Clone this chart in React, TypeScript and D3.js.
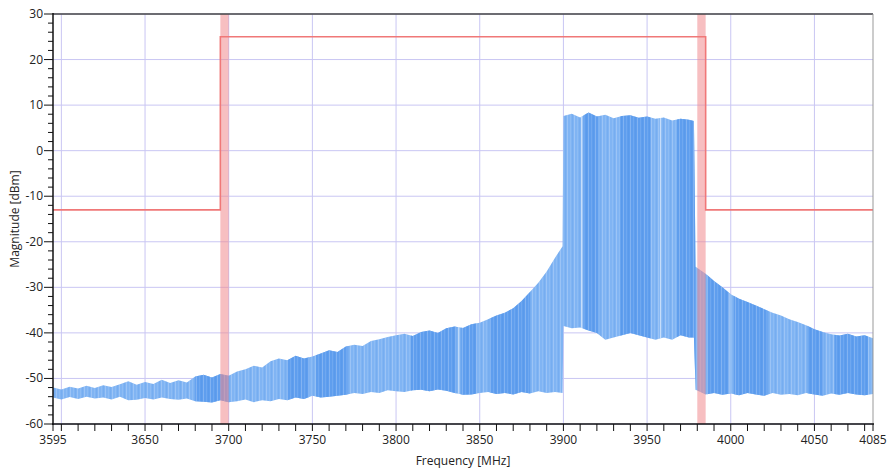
import React from 'react';
import * as d3 from 'd3';

const freqs = [
  3595, 3600, 3605, 3610, 3615, 3620, 3625, 3630, 3635, 3640,
  3645, 3650, 3655, 3660, 3665, 3670, 3675, 3680, 3685, 3690,
  3695, 3700, 3705, 3710, 3715, 3720, 3725, 3730, 3735, 3740,
  3745, 3750, 3755, 3760, 3765, 3770, 3775, 3780, 3785, 3790,
  3795, 3800, 3805, 3810, 3815, 3820, 3825, 3830, 3835, 3840,
  3845, 3850, 3855, 3860, 3865, 3870, 3875, 3880, 3885, 3890,
  3895, 3899.5, 3900, 3905, 3910, 3915, 3920, 3925, 3930, 3935,
  3940, 3945, 3950, 3955, 3960, 3965, 3970, 3975, 3978, 3979,
  3985, 3990, 3995, 4000, 4005, 4010, 4015, 4020, 4025, 4030,
  4035, 4040, 4045, 4050, 4055, 4060, 4065, 4070, 4075, 4080, 4085,
];

const upper = [
  -52, -52.4, -51.8, -52.2, -51.6, -52.1, -51.5, -51.9, -51.3, -50.6,
  -51.4, -50.8, -51.2, -50.3, -51, -50.4, -50.9, -49.6, -49.2, -49.8,
  -49, -49.4, -48.5, -48, -47.2, -47.6, -46.2, -45.6, -46, -45,
  -45.6, -45.2, -44.5, -43.8, -44.2, -43, -42.6, -42.9, -41.8, -41.4,
  -40.9, -40.5, -40.2, -40.7, -39.8, -39.5, -40, -39, -38.6, -38.9,
  -38.1, -37.8, -37, -36.2, -35.6, -34.6, -33, -31, -29, -26.5,
  -23.5, -21, 7.6, 8.1, 7.3, 8.4, 7.5, 7.9, 7.1, 7.6,
  7.8, 7.2, 7.5, 7, 7.3, 6.6, 7, 6.8, 6.5, -25.5,
  -27, -28.6, -30, -31.5, -32.5, -33.2, -34, -34.8, -35.6, -36.2,
  -37, -37.6, -38.3, -39.2, -39.8, -40.3, -40.6, -40.2, -40.8, -40.5, -41.2,
];

const lower = [
  -54.2, -54.6, -54.1, -54.5, -54, -54.4, -54.2, -54.6, -54, -54.8,
  -54.7, -54.3, -54.6, -54.2, -54.5, -54.7, -54.4, -55, -55.1, -55.3,
  -54.8, -55.2, -55, -54.6, -55.2, -54.8, -55, -54.5, -54.8, -54.2,
  -54.5, -53.8, -54.2, -54, -53.8, -53.6, -53.2, -53.4, -53, -53.2,
  -52.6, -52.8, -53, -52.6, -52.5, -52.8, -52.4, -52.7, -53.2, -53.6,
  -53.5, -53.2, -53, -53.4, -53.2, -53.5, -53, -53.3, -52.8, -53.2,
  -53, -53.2, -38.5, -39, -38.8, -39.5, -40, -41.5, -41, -40.5,
  -40, -40.5, -41, -41.5, -41, -41.5, -40.5, -41, -41, -52.5,
  -53.5, -53.2, -53.6, -53.3, -53.7, -53.2, -53.5, -53.8, -53.2, -53.6,
  -53.4, -53.7, -53.2, -53.5, -53.8, -53.3, -53.6, -53.2, -53.5, -53.7, -53.4,
];

// denser shading segments of the trace
const darkStart = [3680, 3735, 3752, 3809, 3839, 3856, 3912, 3934, 3968, 3986, 4002, 4046, 4062];
const darkEnd = [3700, 3748, 3771, 3836, 3848, 3880, 3921, 3952, 3979, 4000, 4022, 4055, 4082];

// thin gaps in the trace
const gapFreq = [3837.5, 3911, 3958, 3999.5];

// spectrum emission mask
const maskFreq = [3595, 3695, 3695, 3985, 3985, 4085];
const maskLevel = [-13, -13, 25, 25, -13, -13];

// transition bands
const bandStart = [3695, 3980];
const bandEnd = [3700, 3985];

const xTickLabels = [3595, 3650, 3700, 3750, 3800, 3850, 3900, 3950, 4000, 4050, 4085];
const xGrid = [3600, 3650, 3700, 3750, 3800, 3850, 3900, 3950, 4000, 4050];
const yTickLabels = [30, 20, 10, 0, -10, -20, -30, -40, -50, -60];

const W = 888;
const H = 468;
const M = { left: 53, right: 873, top: 14, bottom: 424 };
const FONT = "'Open Sans', 'Noto Sans', sans-serif";

export default function App() {
  const x = d3.scaleLinear().domain([3595, 4085]).range([M.left, M.right]);
  const y = d3.scaleLinear().domain([-60, 30]).range([M.bottom, M.top]);

  const pts = freqs.map((f, i) => ({ f, u: upper[i], l: lower[i] }));
  const area = d3
    .area<{ f: number; u: number; l: number }>()
    .x((d) => x(d.f))
    .y0((d) => y(d.l))
    .y1((d) => y(d.u));
  const areaPath = area(pts) || '';

  const mask = d3
    .line<number>()
    .x((_, i) => x(maskFreq[i]))
    .y((d) => y(d));
  const maskPath = mask(maskLevel) || '';

  const minorX: number[] = [3595];
  for (let f = 3600; f <= 4080; f += 10) minorX.push(f);
  minorX.push(4085);
  const minorY: number[] = [];
  for (let v = -60; v <= 30; v += 2) minorY.push(v);

  return (
    <svg
      width={W}
      height={H}
      style={{ position: 'absolute', left: 0, top: 0, background: '#fff' }}
      fontFamily={FONT}
    >
      <defs>
        <clipPath id="plot">
          <rect x={M.left} y={M.top} width={M.right - M.left} height={M.bottom - M.top} />
        </clipPath>
        <clipPath id="trace">
          <path d={areaPath} />
        </clipPath>
        {darkStart.map((s, i) => (
          <clipPath id={`dk${i}`} key={i}>
            <rect x={x(s)} y={M.top} width={x(darkEnd[i]) - x(s)} height={M.bottom - M.top} />
          </clipPath>
        ))}
        <pattern id="streak" width={7} height={10} patternUnits="userSpaceOnUse">
          <rect x={0} y={0} width={1} height={10} fill="#ffffff" opacity={0.22} />
          <rect x={3} y={0} width={1} height={10} fill="#ffffff" opacity={0.1} />
          <rect x={5} y={0} width={1} height={10} fill="#3a82de" opacity={0.14} />
        </pattern>
      </defs>

      {/* grid */}
      <g stroke="#c9c6f3" strokeWidth={1}>
        {xGrid.map((f) => (
          <line key={f} x1={x(f)} x2={x(f)} y1={M.top} y2={M.bottom} />
        ))}
        {yTickLabels.map((v) => (
          <line key={v} x1={M.left} x2={M.right} y1={y(v)} y2={y(v)} />
        ))}
      </g>

      {/* spectrum trace */}
      <g clipPath="url(#plot)">
        <path d={areaPath} fill="#80b4f3" />
        {darkStart.map((_, i) => (
          <path key={i} d={areaPath} fill="#5497ec" opacity={0.75} clipPath={`url(#dk${i})`} />
        ))}
        <path d={areaPath} fill="url(#streak)" />
        <g clipPath="url(#trace)">
          {gapFreq.map((f) => (
            <line
              key={f}
              x1={x(f)}
              x2={x(f)}
              y1={M.top}
              y2={M.bottom}
              stroke="#ffffff"
              strokeWidth={1.2}
              opacity={0.55}
            />
          ))}
        </g>
      </g>

      {/* transition bands */}
      {bandStart.map((s, i) => (
        <rect
          key={i}
          x={x(s)}
          y={M.top}
          width={x(bandEnd[i]) - x(s)}
          height={M.bottom - M.top}
          fill="#f08a8e"
          opacity={0.55}
        />
      ))}

      {/* mask line */}
      <path d={maskPath} fill="none" stroke="#f07878" strokeWidth={1.6} />

      {/* frame */}
      <line x1={M.left} x2={M.right} y1={M.top} y2={M.top} stroke="#444" strokeWidth={1.5} />
      <line x1={M.right} x2={M.right} y1={M.top} y2={M.bottom} stroke="#999" strokeWidth={1} />

      {/* y axis */}
      <g stroke="#111" strokeWidth={1}>
        <line x1={M.left} x2={M.left} y1={M.top - 1} y2={M.bottom + 1} strokeWidth={1.5} />
        {minorY.map((v) => (
          <line
            key={v}
            x1={M.left - (v % 10 === 0 ? 9 : 5)}
            x2={M.left}
            y1={y(v)}
            y2={y(v)}
          />
        ))}
      </g>
      <g fontSize={12} fill="#222" textAnchor="end">
        {yTickLabels.map((v) => (
          <text key={v} x={M.left - 10} y={y(v) + 4}>
            {v}
          </text>
        ))}
      </g>

      {/* x axis */}
      <g stroke="#111" strokeWidth={1}>
        <line x1={M.left - 1} x2={M.right + 1} y1={M.bottom} y2={M.bottom} strokeWidth={1.5} />
        {minorX.map((f) => (
          <line key={f} x1={x(f)} x2={x(f)} y1={M.bottom} y2={M.bottom + 7} />
        ))}
      </g>
      <g fontSize={12} fill="#222" textAnchor="middle">
        {xTickLabels.map((f) => (
          <text key={f} x={x(f)} y={M.bottom + 20}>
            {f}
          </text>
        ))}
      </g>

      {/* axis titles */}
      <text x={(M.left + M.right) / 2} y={465} fontSize={12} fill="#222" textAnchor="middle">
        Frequency [MHz]
      </text>
      <text
        transform={`translate(19,${(M.top + M.bottom) / 2}) rotate(-90)`}
        fontSize={12}
        fill="#222"
        textAnchor="middle"
      >
        Magnitude [dBm]
      </text>
    </svg>
  );
}
